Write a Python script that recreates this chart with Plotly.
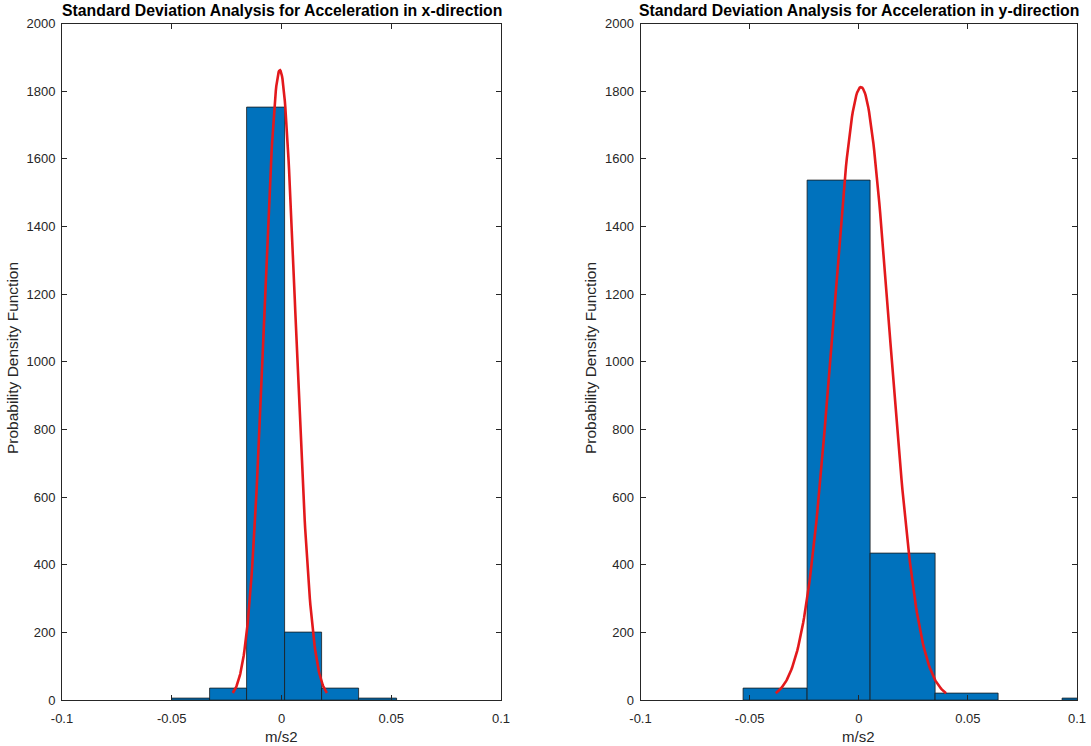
import plotly.graph_objects as go
import numpy as np

# ---- data ----
x_edges = [-0.0497, -0.0326, -0.0156, 0.0014, 0.0184, 0.0355, 0.0525]
x_counts = [3, 35, 1752, 200, 35, 3]
x_mu, x_sigma, x_peak = -0.00075, 0.00715, 1862

y_edges = [-0.0526, -0.0236, 0.0056, 0.0351, 0.0641, 0.0933, 0.1225]
y_counts = [35, 1535, 434, 20, None, 3]
y_mu, y_sigma, y_peak = 0.001, 0.013, 1812

titles = ["Standard Deviation Analysis for Acceleration in x-direction",
          "Standard Deviation Analysis for Acceleration in y-direction"]
x_label = "m/s2"
y_label = "Probability Density Function"
x_tickvals = [-0.1, -0.05, 0, 0.05, 0.1]
x_ticktext = ["-0.1", "-0.05", "0", "0.05", "0.1"]
y_tickvals = list(range(0, 2001, 200))

W, H = 1091, 746
FONT = "Liberation Sans, Arial, sans-serif"
AXC = "#262626"
BLUE = "#0072BD"

fig = go.Figure()

def add_panel(edges, counts, mu, sigma, peak, xa, ya):
    e = np.array(edges)
    centers = (e[:-1] + e[1:]) / 2
    widths = e[1:] - e[:-1]
    fig.add_trace(go.Bar(x=centers, y=counts, width=widths, marker=dict(color=BLUE, line=dict(color="#1a1a1a", width=0.8)),
                         xaxis=xa, yaxis=ya, showlegend=False))
    xs = np.linspace(mu - 3 * sigma, mu + 3 * sigma, 200)
    ys = peak * np.exp(-(xs - mu) ** 2 / (2 * sigma ** 2))
    fig.add_trace(go.Scatter(x=xs, y=ys, mode="lines", line=dict(color="#e3191c", width=2.6),
                             xaxis=xa, yaxis=ya, showlegend=False))

add_panel(x_edges, x_counts, x_mu, x_sigma, x_peak, "x", "y")
add_panel(y_edges, y_counts, y_mu, y_sigma, y_peak, "x2", "y2")

def xaxis_cfg(dom, anchor):
    return dict(domain=dom, anchor=anchor, range=[-0.1, 0.1], tickvals=x_tickvals, ticktext=x_ticktext,
                ticks="inside", ticklen=5, tickcolor=AXC, mirror="ticks", showline=True, linecolor=AXC,
                linewidth=1, showgrid=False, zeroline=False, automargin=False, ticklabelstandoff=6,
                tickfont=dict(size=13, color=AXC, family=FONT))

def yaxis_cfg(dom, anchor):
    return dict(domain=dom, anchor=anchor, range=[0, 2000], tickvals=y_tickvals,
                ticks="inside", ticklen=5, tickcolor=AXC, mirror="ticks", showline=True, linecolor=AXC,
                linewidth=1, showgrid=False, zeroline=False, automargin=False, ticklabelstandoff=3,
                tickfont=dict(size=13, color=AXC, family=FONT))

ydom = [1 - 700 / H, 1 - 23.5 / H]
xdom1 = [62 / W, 501 / W]
xdom2 = [640.5 / W, 1077 / W]

fig.update_layout(
    width=W, height=H, margin=dict(l=0, r=0, t=0, b=0, autoexpand=False),
    paper_bgcolor="white", plot_bgcolor="white", bargap=0,
    xaxis=xaxis_cfg(xdom1, "y"), yaxis=yaxis_cfg(ydom, "x"),
    xaxis2=xaxis_cfg(xdom2, "y2"), yaxis2=yaxis_cfg(ydom, "x2"),
    font=dict(family=FONT, color=AXC),
)

ann = []
for dom, t, ylx in [(xdom1, titles[0], 12 / W), (xdom2, titles[1], 590 / W)]:
    cx = (dom[0] + dom[1]) / 2
    ann.append(dict(text="<b>" + t + "</b>", x=cx, y=1 - 10 / H, xref="paper", yref="paper",
                    showarrow=False, xanchor="center", yanchor="middle", font=dict(size=15.8, color="black", family=FONT)))
    ann.append(dict(text=x_label, x=cx, y=1 - 736 / H, xref="paper", yref="paper",
                    showarrow=False, xanchor="center", yanchor="middle", font=dict(size=15, color=AXC, family=FONT)))
    ann.append(dict(text=y_label, x=ylx, y=1 - 358 / H, xref="paper", yref="paper", textangle=-90,
                    showarrow=False, xanchor="center", yanchor="middle", font=dict(size=15.5, color=AXC, family=FONT)))
fig.update_layout(annotations=ann)

fig.write_html("out.html")
